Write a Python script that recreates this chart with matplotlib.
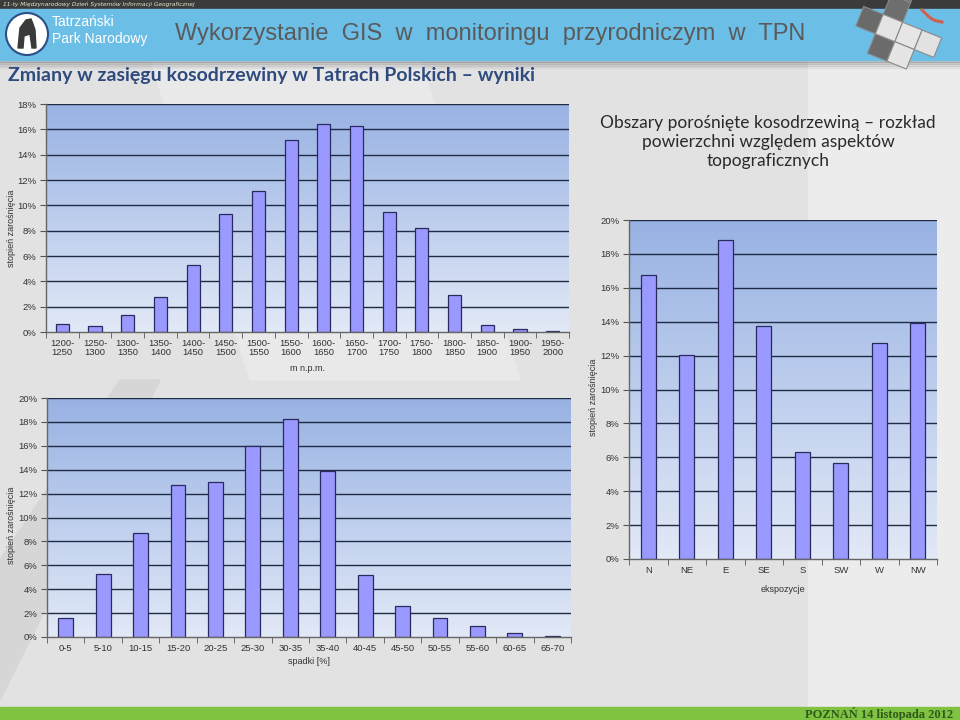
import numpy as np
import matplotlib
matplotlib.use("Agg")
import matplotlib.pyplot as plt
from matplotlib.colors import LinearSegmentedColormap
from matplotlib.patches import Rectangle, Polygon, Circle

# ---------------- data ----------------
alt_labels = ["1200-\n1250", "1250-\n1300", "1300-\n1350", "1350-\n1400", "1400-\n1450",
              "1450-\n1500", "1500-\n1550", "1550-\n1600", "1600-\n1650", "1650-\n1700",
              "1700-\n1750", "1750-\n1800", "1800-\n1850", "1850-\n1900", "1900-\n1950",
              "1950-\n2000"]
alt_values = [0.62, 0.46, 1.37, 2.73, 5.32, 9.32, 11.13, 15.16, 16.42, 16.28,
              9.45, 8.25, 2.92, 0.55, 0.22, 0.09]

slope_labels = ["0-5", "5-10", "10-15", "15-20", "20-25", "25-30", "30-35", "35-40",
                "40-45", "45-50", "50-55", "55-60", "60-65", "65-70"]
slope_values = [1.62, 5.27, 8.73, 12.75, 12.97, 15.98, 18.24, 13.92,
                5.22, 2.57, 1.56, 0.89, 0.36, 0.11]

aspect_labels = ["N", "NE", "E", "SE", "S", "SW", "W", "NW"]
aspect_values = [16.74, 12.04, 18.80, 13.77, 6.33, 5.64, 12.74, 13.94]

W, H = 960, 720
fig = plt.figure(figsize=(9.6, 7.2), dpi=100)
fig.patch.set_facecolor("#e3e3e3")

# ---------------- background / slide decoration ----------------
bg = fig.add_axes([0, 0, 1, 1], zorder=-5)
bg.set_xlim(0, W)
bg.set_ylim(H, 0)
bg.axis("off")
bg.add_patch(Rectangle((0, 0), W, H, color="#e2e2e2", zorder=0))
bg.add_patch(Rectangle((808, 58), 152, 650, color="#ececec", zorder=0.5))
bg.add_patch(Polygon([[0, 560], [120, 380], [160, 380], [0, 700]], closed=True,
                     color="#d6d6d6", zorder=0.6))
bg.add_patch(Polygon([[150, 58], [420, 58], [520, 380], [250, 380]], closed=True,
                     color="#e9e9e9", zorder=0.6))
# top dark strip
bg.add_patch(Rectangle((0, 0), W, 9, color="#3b3b3b", zorder=1))
bg.text(3, 4.5, "11-ty Międzynarodowy Dzień Systemów Informacji Geograficznej",
        fontsize=4.2, color="#e8e6c8", va="center", ha="left", style="italic",
        family="DejaVu Sans", zorder=2)
# blue band with shadow
for i, a in enumerate([0.12, 0.08, 0.05, 0.03]):
    bg.add_patch(Rectangle((0, 60 + i * 2), W, 2, color="black", alpha=a, zorder=1))
bg.add_patch(Rectangle((0, 9), W, 51, color="#6bbee6", zorder=1.5))
# logo
bg.add_patch(Circle((27, 34), 21, facecolor="white", edgecolor="#2b4f86", lw=1.5, zorder=2))
bg.add_patch(Polygon([[18, 48], [20, 28], [26, 20], [31, 19], [33, 24], [35, 30],
                      [36, 48], [32, 48], [30, 34], [24, 36], [23, 48]], closed=True,
                     color="#3a3a3a", zorder=3))
bg.text(52, 22, "Tatrzański", fontsize=10, color="white", va="center", ha="left",
        family="Liberation Sans", zorder=3)
bg.text(52, 39, "Park Narodowy", fontsize=10, color="white", va="center", ha="left",
        family="Liberation Sans", zorder=3)
bg.text(490, 34, "Wykorzystanie  GIS  w  monitoringu  przyrodniczym  w  TPN",
        fontsize=17, color="#5a5a5a", va="center", ha="center",
        family="Liberation Sans", zorder=3)

# decorative tilted cross of squares
th = np.deg2rad(22)
hu = 10.5 * np.array([np.cos(th), np.sin(th)])
hv = 10.5 * np.array([-np.sin(th), np.cos(th)])
O = np.array([889.0, 28.0])
cells = [(0, -2, "#727272"), (0, -1, "#6e6e6e"), (-1, 0, "#6a6a6a"), (0, 1, "#6c6c6c"),
         (0, 0, "#e4e4e4"), (1, 0, "#e6e6e6"), (2, 0, "#e2e2e2"), (1, 1, "#e5e5e5")]
for (i, j, col) in cells:
    c = O + 2 * i * hu + 2 * j * hv
    pts = [c - hu - hv, c + hu - hv, c + hu + hv, c - hu + hv]
    bg.add_patch(Polygon(pts, closed=True, facecolor=col, edgecolor="#8a8a8a",
                         lw=0.8, zorder=4))
t = np.linspace(0, 1, 20)
bg.plot(922 + 20 * t, 10 + 6 * np.sin(np.pi * t) + 12 * t ** 2, color="#d0604c",
        lw=2.2, zorder=5)

# subtitle
bg.text(8, 75, "Zmiany w zasięgu kosodrzewiny w Tatrach Polskich – wyniki",
        fontsize=14.0, color="#2f4b7e", va="center", ha="left",
        family="Lato", fontweight="bold", zorder=3)

# right text
bg.text(768, 142, "Obszary porośnięte kosodrzewiną – rozkład\npowierzchni względem aspektów\ntopograficznych",
        fontsize=12.5, color="#2a2a2a", va="center", ha="center", linespacing=1.25,
        family="Lato", zorder=3)

# footer
bg.add_patch(Rectangle((0, 707), W, 13, color="#80c241", zorder=1))
bg.text(953, 714, "POZNAŃ 14 listopada 2012", fontsize=9, color="#2f5a1a",
        va="center", ha="right", family="Liberation Serif", fontweight="bold", zorder=3)

# ---------------- charts ----------------
cmap = LinearSegmentedColormap.from_list("bgc", ["#e2e9f7", "#98b2e3"])
TXT = "#333333"
FONT = "Liberation Sans"


def make_chart(rect_px, labels, values, ymax, xlabel, label_pad_px):
    x0, y0, x1, y1 = rect_px
    ax = fig.add_axes([x0 / W, 1 - y1 / H, (x1 - x0) / W, (y1 - y0) / H])
    n = len(values)
    ax.set_xlim(-0.5, n - 0.5)
    ax.set_ylim(0, ymax)
    grad = np.linspace(0, 1, 256).reshape(-1, 1)
    ax.imshow(grad, extent=[-0.5, n - 0.5, 0, ymax], origin="lower",
              aspect="auto", cmap=cmap, zorder=0)
    yt = np.arange(0, ymax + 0.01, 2)
    for val in yt[1:]:
        ax.axhline(val, color="#1f2b45", lw=1.0, zorder=1)
    ax.bar(np.arange(n), values, width=0.4, color="#9999ff",
           edgecolor="#2a2a5e", linewidth=0.9, zorder=2)
    ax.set_yticks(yt)
    ax.set_yticklabels([f"{int(t)}%" for t in yt], fontsize=6.8, color=TXT, family=FONT)
    ax.set_xticks(np.arange(n))
    ax.set_xticklabels(labels, fontsize=6.8, color=TXT, family=FONT, linespacing=1.0)
    ax.set_xticks(np.arange(n + 1) - 0.5, minor=True)
    ax.tick_params(axis="x", which="major", length=0, pad=5)
    ax.tick_params(axis="x", which="minor", length=4, direction="out", color="#555555")
    ax.tick_params(axis="y", length=4, direction="out", color="#555555", pad=3)
    for sp in ["top", "right"]:
        ax.spines[sp].set_visible(False)
    for sp in ["left", "bottom"]:
        ax.spines[sp].set_color("#666666")
        ax.spines[sp].set_linewidth(1.0)
    ax.set_xlabel(xlabel, fontsize=6.5, color=TXT, family=FONT, labelpad=label_pad_px)
    return ax


ax1 = make_chart((46, 104, 569, 332), alt_labels, alt_values, 18, "m n.p.m.", 5)
ax2 = make_chart((47, 398, 571, 637), slope_labels, slope_values, 20, "spadki [%]", 3)
ax3 = make_chart((629, 220, 937, 559), aspect_labels, aspect_values, 20, "ekspozycje", 7)

for (xp, yp) in [(12, 228), (12, 525), (594, 397)]:
    bg.text(xp, yp, "stopień zarośnięcia", rotation=90, fontsize=6.5, color=TXT,
            family=FONT, va="center", ha="center", zorder=3)

fig.savefig("out.png", dpi=100, facecolor=fig.get_facecolor())
